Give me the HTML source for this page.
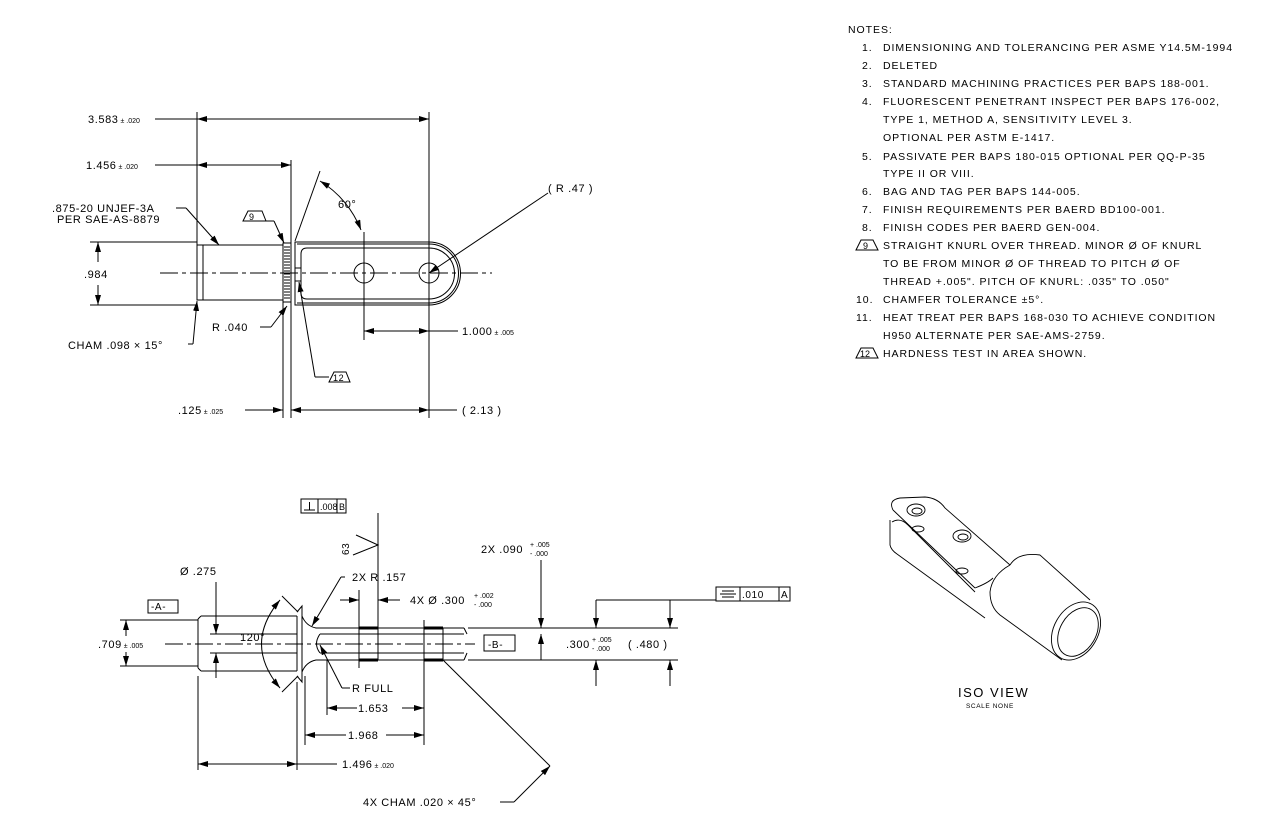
<!DOCTYPE html>
<html><head><meta charset="utf-8"><style>
html,body{margin:0;padding:0;background:#fff}
svg{display:block}
text{font-family:"Liberation Sans",sans-serif;font-size:11px;fill:#000;letter-spacing:0.6px}
.n{font-size:10.5px;letter-spacing:0.95px}
.s{font-size:7px;letter-spacing:0}
</style></head><body>
<svg width="1264" height="825" viewBox="0 0 1264 825" xmlns="http://www.w3.org/2000/svg">
<defs>
<marker id="a" viewBox="0 0 10 6" refX="10" refY="3" markerWidth="10" markerHeight="6" orient="auto-start-reverse" markerUnits="userSpaceOnUse"><path d="M0,0 L10,3 L0,6z" fill="#000"/></marker>
</defs>
<g stroke="#000" stroke-width="1" fill="none">
<!-- TOP VIEW -->
<line x1="197" y1="112" x2="197" y2="300"/>
<line x1="429" y1="112" x2="429" y2="418"/>
<line x1="291" y1="160" x2="291" y2="418"/>
<line x1="283" y1="300" x2="283" y2="418"/>
<line x1="155" y1="119" x2="197" y2="119"/>
<line x1="197" y1="119" x2="429" y2="119" marker-start="url(#a)" marker-end="url(#a)"/>
<line x1="155" y1="165" x2="197" y2="165"/>
<line x1="197" y1="165" x2="291" y2="165" marker-start="url(#a)" marker-end="url(#a)"/>
<rect x="197" y="245" width="86" height="55"/>
<line x1="203" y1="245" x2="203" y2="300"/>
<rect x="283" y="243" width="8" height="59"/>
<path d="M284,247h6M284,250h6M284,253h6M284,256h6M284,259h6M284,262h6M284,265h6M284,268h6M284,271h6M284,274h6M284,277h6M284,280h6M284,283h6M284,286h6M284,289h6M284,292h6M284,295h6M284,298h6"/>
<path d="M295,242 H429 A31.5,31.5 0 0 1 429,305 H295 Z"/>
<path d="M297,244 H429 A29.5,29.5 0 0 1 429,303 H297"/>
<path d="M307,248 H429 A25,25 0 0 1 429,299 H307 Q301,299 301,293 V254 Q301,248 307,248 Z"/>
<rect x="295" y="268" width="6" height="13"/>
<circle cx="364" cy="273" r="10"/>
<circle cx="429" cy="273" r="10"/>
<line x1="160" y1="273" x2="492" y2="273" stroke-dasharray="18,4,4,4"/>
<line x1="90" y1="242" x2="197" y2="242"/>
<line x1="90" y1="305" x2="197" y2="305"/>
<line x1="98" y1="242" x2="98" y2="262" marker-start="url(#a)"/>
<line x1="98" y1="285" x2="98" y2="305" marker-end="url(#a)"/>
<line x1="364" y1="232" x2="364" y2="340"/>
<line x1="364" y1="331" x2="429" y2="331" marker-start="url(#a)" marker-end="url(#a)"/>
<line x1="429" y1="331" x2="458" y2="331"/>
<line x1="245" y1="410" x2="283" y2="410" marker-end="url(#a)"/>
<line x1="291" y1="410" x2="429" y2="410" marker-start="url(#a)" marker-end="url(#a)"/>
<line x1="429" y1="410" x2="457" y2="410"/>
<line x1="176" y1="208" x2="186" y2="208"/>
<line x1="186" y1="208" x2="219" y2="245" marker-end="url(#a)"/>
<line x1="188" y1="344" x2="193" y2="344"/>
<line x1="193" y1="344" x2="197" y2="301" marker-end="url(#a)"/>
<line x1="260" y1="327" x2="271" y2="327"/>
<line x1="271" y1="327" x2="287" y2="306" marker-end="url(#a)"/>
<line x1="262" y1="221" x2="274" y2="221"/>
<line x1="274" y1="221" x2="284" y2="243" marker-end="url(#a)"/>
<line x1="329" y1="377" x2="315" y2="377"/>
<line x1="315" y1="377" x2="299" y2="282" marker-end="url(#a)"/>
<line x1="295" y1="241" x2="320" y2="171"/>
<path d="M320,181 A100,100 0 0 1 361,230" marker-start="url(#a)" marker-end="url(#a)"/>
<line x1="548" y1="193" x2="429" y2="273" marker-end="url(#a)"/>
<path d="M243,221 L248,211 L262,211 L266,221 Z"/>
<path d="M329,382 L334,372 L346,372 L350,382 Z"/>

<!-- BOTTOM VIEW -->
<path d="M201,616 H297 M201,671 H297 M198,619 V668 M201,616 L198,619 M201,671 L198,668"/>
<path d="M297,616 V671"/>
<path d="M297,612 L302,606 V682 L297,676"/>
<path d="M302,616 Q306,626 316,628 H464 M302,672 Q306,662 316,660 H464"/>
<path d="M320,634 H464 M320,653 H464 M320,634 Q313,644 320,653"/>
<path d="M464,628 L467,634 M464,660 L467,653"/>
<rect x="359" y="628" width="19" height="32"/>
<rect x="424" y="628" width="19" height="32"/>
<line x1="359" y1="628" x2="378" y2="628" stroke-width="3"/>
<line x1="359" y1="660" x2="378" y2="660" stroke-width="3"/>
<line x1="424" y1="628" x2="443" y2="628" stroke-width="3"/>
<line x1="424" y1="660" x2="443" y2="660" stroke-width="3"/>
<line x1="210" y1="634" x2="297" y2="634"/>
<line x1="210" y1="653" x2="297" y2="653"/>
<line x1="165" y1="644" x2="475" y2="644" stroke-dasharray="18,4,4,4"/>
<line x1="468" y1="628" x2="678" y2="628"/>
<line x1="468" y1="660" x2="678" y2="660"/>
<line x1="120" y1="620" x2="198" y2="620"/>
<line x1="120" y1="666" x2="198" y2="666"/>
<line x1="126" y1="620" x2="126" y2="636" marker-start="url(#a)"/>
<line x1="126" y1="652" x2="126" y2="666" marker-end="url(#a)"/>
<line x1="216" y1="582" x2="216" y2="634" marker-end="url(#a)"/>
<line x1="216" y1="653" x2="216" y2="678" marker-start="url(#a)"/>
<path d="M280,600 Q243,644 280,688" marker-start="url(#a)" marker-end="url(#a)"/>
<line x1="282" y1="596" x2="298" y2="612"/>
<line x1="282" y1="692" x2="298" y2="676"/>
<rect x="301" y="499" width="45" height="14"/>
<line x1="318" y1="499" x2="318" y2="513"/><line x1="337" y1="499" x2="337" y2="513"/>
<line x1="304" y1="510" x2="315" y2="510"/><line x1="309.5" y1="502" x2="309.5" y2="510"/>
<line x1="378" y1="513" x2="378" y2="628"/>
<path d="M356,535 L378,545 L353,555"/>
<line x1="340" y1="600" x2="359" y2="600" marker-end="url(#a)"/>
<line x1="400" y1="600" x2="378" y2="600" marker-end="url(#a)"/>
<line x1="359" y1="590" x2="359" y2="668"/>
<line x1="424" y1="620" x2="424" y2="745"/>
<line x1="305" y1="676" x2="305" y2="745"/>
<line x1="198" y1="676" x2="198" y2="770"/>
<line x1="297" y1="682" x2="297" y2="770"/>
<line x1="327" y1="660" x2="327" y2="715"/>
<line x1="345" y1="577" x2="341" y2="577"/>
<line x1="341" y1="577" x2="312" y2="626" marker-end="url(#a)"/>
<line x1="342" y1="688" x2="350" y2="688"/>
<line x1="342" y1="688" x2="320" y2="645" marker-end="url(#a)"/>
<line x1="327" y1="708" x2="357" y2="708" marker-start="url(#a)"/>
<line x1="402" y1="708" x2="424" y2="708" marker-end="url(#a)"/>
<line x1="305" y1="735" x2="346" y2="735" marker-start="url(#a)"/>
<line x1="386" y1="735" x2="424" y2="735" marker-end="url(#a)"/>
<line x1="198" y1="764" x2="297" y2="764" marker-start="url(#a)" marker-end="url(#a)"/>
<line x1="297" y1="764" x2="337" y2="764"/>
<line x1="443" y1="660" x2="550" y2="766"/>
<line x1="500" y1="802" x2="514" y2="802"/>
<line x1="514" y1="802" x2="550" y2="766" marker-end="url(#a)"/>
<line x1="541" y1="560" x2="541" y2="628" marker-end="url(#a)"/>
<line x1="541" y1="660" x2="541" y2="634" marker-end="url(#a)"/>
<line x1="596" y1="600" x2="596" y2="628" marker-end="url(#a)"/>
<line x1="596" y1="600" x2="716" y2="600"/>
<line x1="596" y1="686" x2="596" y2="660" marker-end="url(#a)"/>
<line x1="670" y1="600" x2="670" y2="628" marker-end="url(#a)"/>
<line x1="670" y1="686" x2="670" y2="660" marker-end="url(#a)"/>
<rect x="716" y="587" width="74" height="14"/>
<line x1="740" y1="587" x2="740" y2="601"/><line x1="779" y1="587" x2="779" y2="601"/>
<line x1="722" y1="591" x2="734" y2="591"/><line x1="720" y1="594" x2="736" y2="594"/><line x1="722" y1="597" x2="734" y2="597"/>
<rect x="148" y="600" width="30" height="13"/>
<rect x="484" y="635" width="31" height="16" fill="#fff"/>

<!-- ISO -->
<g stroke-width="0.9">
<path d="M893,510 Q888,500 900,498 L925,497 Q938,498 945,508 L1010,565"/>
<path d="M893,510 L975,588"/>
<path d="M890,520 V545 Q891,550 897,554 L985,618"/>
<path d="M892,522 Q900,517 908,525 L975,592"/>
<ellipse cx="916" cy="510" rx="9" ry="6"/><ellipse cx="917" cy="511" rx="5" ry="3"/>
<ellipse cx="962" cy="536" rx="9" ry="6"/><ellipse cx="963" cy="537" rx="5" ry="3"/>
<ellipse cx="918" cy="529" rx="6" ry="3"/><ellipse cx="962" cy="571" rx="6" ry="3"/>
<path d="M1010,565 Q1018,552 1040,555 L1090,600"/>
<path d="M1010,565 Q992,575 990,592 Q990,607 1000,615 L1062,660"/>
<path d="M975,588 Q988,583 993,578"/>
<ellipse cx="1076" cy="631" rx="22" ry="31" transform="rotate(30 1076 631)"/>
<ellipse cx="1078" cy="632" rx="18" ry="26" transform="rotate(30 1078 632)"/>
</g>
</g>
<!-- TEXT -->
<text x="88" y="123">3.583<tspan class="s"> ± .020</tspan></text>
<text x="86" y="169">1.456<tspan class="s"> ± .020</tspan></text>
<text x="52" y="212">.875-20 UNJEF-3A</text>
<text x="57" y="223">PER SAE-AS-8879</text>
<text x="84" y="278">.984</text>
<text x="68" y="349">CHAM .098 × 15°</text>
<text x="212" y="331">R .040</text>
<text x="338" y="208">60°</text>
<text x="548" y="192">( R .47 )</text>
<text x="462" y="335">1.000<tspan class="s"> ± .005</tspan></text>
<text x="178" y="414">.125<tspan class="s"> ± .025</tspan></text>
<text x="462" y="414">( 2.13 )</text>
<text x="249" y="220" style="font-size:9px">9</text>
<text x="333" y="381" style="font-size:9px">12</text>

<text x="320" y="510" style="font-size:9px;letter-spacing:0">.008</text>
<text x="339" y="510" style="font-size:9px;letter-spacing:0">B</text>
<text x="349" y="555" style="font-size:10px" transform="rotate(-90 349 555)">63</text>
<text x="180" y="575">Ø .275</text>
<text x="151" y="610" style="font-size:10px">-A-</text>
<text x="98" y="648">.709<tspan class="s"> ± .005</tspan></text>
<text x="240" y="641">120°</text>
<text x="352" y="581">2X  R .157</text>
<text x="410" y="604">4X Ø .300</text><text x="474" y="598" class="s">+ .002</text><text x="474" y="607" class="s">- .000</text>
<text x="481" y="553">2X .090</text><text x="530" y="547" class="s">+ .005</text><text x="530" y="556" class="s">- .000</text>
<text x="488" y="648" style="font-size:10px">-B-</text>
<text x="566" y="648">.300</text><text x="592" y="642" class="s">+ .005</text><text x="592" y="651" class="s">- .000</text>
<text x="628" y="648">( .480 )</text>
<text x="742" y="598" style="font-size:10px">.010</text><text x="781" y="598" style="font-size:10px">A</text>
<text x="352" y="692">R FULL</text>
<text x="358" y="712">1.653</text>
<text x="348" y="739">1.968</text>
<text x="342" y="768">1.496<tspan class="s"> ± .020</tspan></text>
<text x="363" y="806">4X CHAM .020 × 45°</text>
<text x="958" y="697" style="font-size:13px;letter-spacing:1.5px">ISO VIEW</text>
<text x="966" y="708" style="font-size:6.5px">SCALE NONE</text>

<text class="n" x="848" y="33">NOTES:</text>
<text class="n" x="862" y="51">1.</text><text class="n" x="883" y="51">DIMENSIONING AND TOLERANCING PER ASME Y14.5M-1994</text>
<text class="n" x="862" y="69">2.</text><text class="n" x="883" y="69">DELETED</text>
<text class="n" x="862" y="87">3.</text><text class="n" x="883" y="87">STANDARD MACHINING PRACTICES PER BAPS 188-001.</text>
<text class="n" x="862" y="105">4.</text><text class="n" x="883" y="105">FLUORESCENT PENETRANT INSPECT PER BAPS 176-002,</text>
<text class="n" x="883" y="123">TYPE 1, METHOD A, SENSITIVITY LEVEL 3.</text>
<text class="n" x="883" y="141">OPTIONAL PER ASTM E-1417.</text>
<text class="n" x="862" y="160">5.</text><text class="n" x="883" y="160">PASSIVATE PER BAPS 180-015  OPTIONAL PER QQ-P-35</text>
<text class="n" x="883" y="177">TYPE II OR VIII.</text>
<text class="n" x="862" y="195">6.</text><text class="n" x="883" y="195">BAG AND TAG PER BAPS 144-005.</text>
<text class="n" x="862" y="213">7.</text><text class="n" x="883" y="213">FINISH REQUIREMENTS PER BAERD BD100-001.</text>
<text class="n" x="862" y="231">8.</text><text class="n" x="883" y="231">FINISH CODES PER BAERD GEN-004.</text>
<text class="n" x="883" y="249">STRAIGHT KNURL OVER THREAD. MINOR Ø OF KNURL</text>
<text class="n" x="883" y="267">TO BE FROM MINOR Ø OF THREAD TO PITCH Ø OF</text>
<text class="n" x="883" y="285">THREAD +.005". PITCH OF KNURL: .035" TO .050"</text>
<text class="n" x="856" y="303">10.</text><text class="n" x="883" y="303">CHAMFER TOLERANCE ±5°.</text>
<text class="n" x="856" y="321">11.</text><text class="n" x="883" y="321">HEAT TREAT PER BAPS 168-030 TO ACHIEVE CONDITION</text>
<text class="n" x="883" y="339">H950  ALTERNATE PER SAE-AMS-2759.</text>
<text class="n" x="883" y="357">HARDNESS TEST IN AREA SHOWN.</text>
<path d="M856,250 L861,240 L873,240 L878,250 Z" stroke="#000" fill="none"/>
<text x="863" y="249" style="font-size:9px">9</text>
<path d="M856,358 L861,348 L873,348 L878,358 Z" stroke="#000" fill="none"/>
<text x="860" y="357" style="font-size:9px;letter-spacing:0">12</text>
</svg>
</body></html>
